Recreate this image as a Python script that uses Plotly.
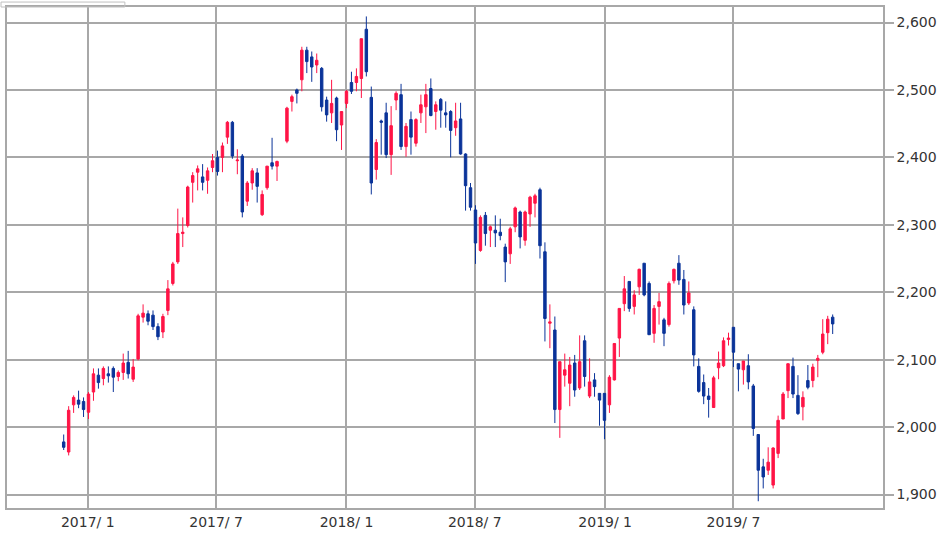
import pandas as pd
import plotly.graph_objects as go

# weekly candles, one per week starting 2016-11-28 (week of 2017-10-02 missing)
week_start = "2016-11-28"
n_weeks = 156
missing_week = "2017-10-02"

tick_dates = ["2017-01-01", "2017-07-01", "2018-01-01",
              "2018-07-01", "2019-01-01", "2019-07-01"]
tick_labels = ["2017/ 1", "2017/ 7", "2018/ 1", "2018/ 7", "2019/ 1", "2019/ 7"]

# values, rows of 10 weeks (row 40 has 9: week 44 missing)
opens = [1978, 1963, 2033, 2040, 2038, 2022, 2052, 2077, 2072, 2079,
         2087, 2075, 2081, 2096, 2071, 2101, 2163, 2168, 2166, 2149,
         2141, 2173, 2213, 2245, 2287, 2299, 2363, 2378, 2371, 2366,
         2385, 2400, 2400, 2430, 2452, 2395, 2402, 2335, 2362, 2377,
         2315, 2355, 2392, 2387, 2424, 2483, 2500, 2515, 2559,
         2549, 2537, 2532, 2485, 2466, 2488, 2448, 2480, 2511, 2511,
         2517, 2590, 2489, 2382, 2454, 2466, 2404, 2485, 2493, 2416,
         2456, 2421, 2466, 2475, 2502, 2468, 2486, 2466, 2468, 2444,
         2457, 2405, 2355, 2322, 2262, 2314, 2292, 2292, 2289, 2267,
         2257, 2297, 2319, 2277, 2316, 2332, 2352, 2260, 2154, 2144,
         2026, 2077, 2065, 2095, 2058, 2128, 2046, 2070, 2050, 2050,
         2033, 2070, 2132, 2183, 2216, 2179, 2208, 2243, 2213, 2139,
         2179, 2159, 2152, 2217, 2243, 2219, 2184, 2174, 2090, 2066,
         2046, 2029, 2088, 2091, 2130, 2148, 2094, 2085, 2091, 2061,
         1989, 1941, 1936, 1914, 1961, 2012, 2054, 2090, 2047, 2030,
         2069, 2069, 2099, 2111, 2140, 2163]

highs = [1989, 2031, 2047, 2054, 2044, 2052, 2087, 2087, 2090, 2090,
         2090, 2084, 2109, 2113, 2101, 2168, 2182, 2173, 2173, 2154,
         2168, 2218, 2245, 2324, 2311, 2358, 2378, 2388, 2390, 2385,
         2405, 2410, 2422, 2454, 2454, 2412, 2405, 2365, 2384, 2384,
         2351, 2387, 2429, 2395, 2475, 2493, 2502, 2564, 2564,
         2557, 2554, 2534, 2490, 2515, 2490, 2468, 2500, 2527, 2532,
         2576, 2609, 2505, 2427, 2456, 2481, 2476, 2498, 2509, 2451,
         2468, 2458, 2493, 2509, 2517, 2483, 2488, 2483, 2470, 2481,
         2481, 2406, 2362, 2329, 2314, 2319, 2299, 2314, 2309, 2272,
         2297, 2327, 2321, 2321, 2343, 2346, 2355, 2274, 2182, 2164,
         2097, 2109, 2104, 2107, 2136, 2136, 2102, 2080, 2050, 2050,
         2077, 2124, 2176, 2224, 2216, 2203, 2235, 2243, 2216, 2181,
         2199, 2162, 2216, 2235, 2255, 2233, 2216, 2179, 2102, 2078,
         2058, 2076, 2112, 2133, 2140, 2148, 2094, 2098, 2108, 2064,
         1989, 1953, 1970, 1970, 2017, 2052, 2094, 2103, 2077, 2053,
         2092, 2094, 2107, 2160, 2165, 2167]

lows = [1966, 1958, 2021, 2028, 2015, 2012, 2039, 2057, 2062, 2066,
        2052, 2068, 2070, 2072, 2067, 2099, 2155, 2151, 2144, 2129,
        2132, 2166, 2210, 2242, 2267, 2296, 2333, 2351, 2351, 2346,
        2378, 2373, 2378, 2420, 2398, 2375, 2311, 2328, 2352, 2333,
        2313, 2352, 2382, 2365, 2421, 2468, 2480, 2498, 2525,
        2512, 2525, 2468, 2453, 2451, 2424, 2411, 2473, 2494, 2498,
        2488, 2520, 2345, 2367, 2404, 2399, 2374, 2470, 2411, 2401,
        2404, 2416, 2451, 2436, 2461, 2441, 2444, 2444, 2400, 2432,
        2404, 2321, 2321, 2242, 2260, 2269, 2267, 2267, 2277, 2215,
        2242, 2289, 2265, 2269, 2297, 2311, 2250, 2127, 2117, 2006,
        1984, 2060, 2031, 2045, 2055, 2060, 2043, 2045, 2002, 1982,
        2021, 2069, 2104, 2172, 2171, 2167, 2196, 2194, 2137, 2125,
        2152, 2120, 2149, 2213, 2211, 2167, 2181, 2090, 2051, 2034,
        2014, 2029, 2071, 2089, 2121, 2089, 2053, 2063, 2056, 1987,
        1890, 1909, 1929, 1909, 1954, 2012, 2043, 2043, 2018, 2010,
        2056, 2059, 2074, 2108, 2123, 2138]

closes = [1970, 2025, 2044, 2034, 2026, 2049, 2079, 2066, 2087, 2076,
          2074, 2081, 2095, 2079, 2089, 2165, 2169, 2157, 2149, 2134,
          2164, 2205, 2242, 2287, 2289, 2356, 2373, 2383, 2363, 2380,
          2395, 2379, 2417, 2452, 2402, 2396, 2319, 2362, 2380, 2357,
          2345, 2387, 2387, 2394, 2473, 2490, 2495, 2559, 2542,
          2534, 2544, 2475, 2463, 2480, 2441, 2468, 2498, 2498, 2520,
          2576, 2527, 2362, 2422, 2452, 2404, 2447, 2495, 2416, 2446,
          2430, 2456, 2478, 2493, 2462, 2478, 2470, 2463, 2440, 2454,
          2405, 2358, 2326, 2273, 2311, 2287, 2297, 2288, 2284, 2245,
          2294, 2325, 2282, 2319, 2341, 2343, 2269, 2161, 2156, 2026,
          2097, 2085, 2092, 2055, 2097, 2075, 2067, 2060, 2040, 2010,
          2074, 2124, 2176, 2205, 2176, 2196, 2234, 2196, 2137, 2176,
          2186, 2139, 2213, 2234, 2218, 2181, 2199, 2107, 2053, 2046,
          2041, 2073, 2095, 2128, 2132, 2111, 2086, 2098, 2067, 1998,
          1936, 1926, 1948, 1969, 2010, 2049, 2094, 2049, 2020, 2044,
          2059, 2089, 2102, 2138, 2160, 2153]

weeks = pd.date_range(week_start, periods=n_weeks, freq="7D")
weeks = weeks[weeks != pd.Timestamp(missing_week)]

RED = "#ff1446"
BLUE = "#0a3399"
GRID = "#a8a8a8"
FONT = dict(family="DejaVu Sans", size=14, color="#333333")

fig = go.Figure(go.Candlestick(
    x=weeks, open=opens, high=highs, low=lows, close=closes,
    increasing=dict(line=dict(color=RED, width=1), fillcolor=RED),
    decreasing=dict(line=dict(color=BLUE, width=1), fillcolor=BLUE),
    whiskerwidth=0, hoverinfo="x+y"))

fig.update_layout(width=947, height=535,
                  margin=dict(l=6, r=64, t=5, b=25),
                  paper_bgcolor="white", plot_bgcolor="white",
                  showlegend=False, font=FONT)
fig.update_xaxes(type="date", range=["2016-09-09", "2020-01-28"],
                 tickmode="array", tickvals=tick_dates, ticktext=tick_labels,
                 showgrid=True, gridcolor=GRID, gridwidth=1.5,
                 showline=True, linecolor=GRID, linewidth=1.5, mirror=True,
                 ticks="", rangeslider_visible=False, tickfont=FONT)
fig.update_yaxes(side="right", range=[1880, 2623], dtick=100, tickformat=",d",
                 showgrid=True, gridcolor=GRID, gridwidth=1.5,
                 showline=True, linecolor=GRID, linewidth=1.5, mirror=True,
                 ticks="outside", ticklen=9, tickcolor=GRID, tickwidth=1.5,
                 zeroline=False, tickfont=FONT)

# little tab frame at the top-left corner
fig.add_shape(type="rect", xref="paper", yref="paper",
              x0=-6/877, x1=118/877, y0=1, y1=1 + 5/505,
              line=dict(color="#c0c0c0", width=1))

# page body has an 8px default margin; drop it so the figure fills the window
fig.write_html("out.html", config={"displayModeBar": False},
               post_script="document.body.style.margin='0';"
                           "document.body.style.overflow='hidden';")
